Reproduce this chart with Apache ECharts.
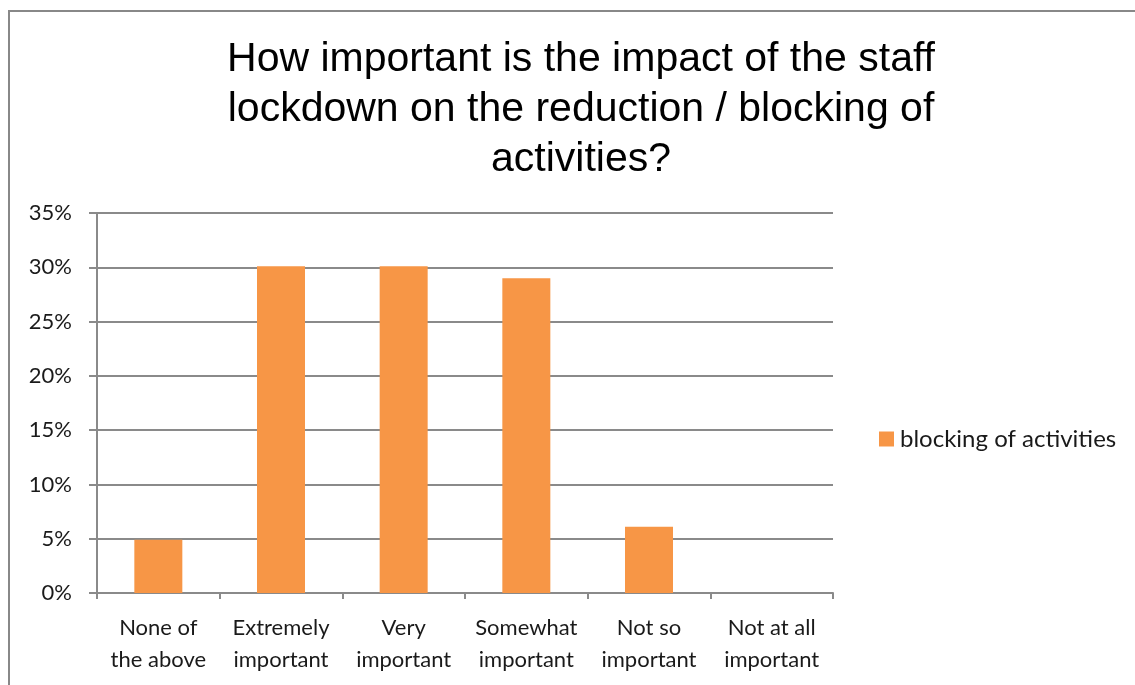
<!DOCTYPE html>
<html>
<head>
<meta charset="utf-8">
<script src="https://cdn.jsdelivr.net/npm/echarts@6/dist/echarts.min.js"></script>
<style>
html,body{margin:0;padding:0;background:#fff;}
#frame{position:absolute;left:8px;top:10px;width:1130px;height:690px;border-left:2px solid #888;border-top:2px solid #888;box-sizing:border-box;}
#chart{position:absolute;left:0;top:0;width:1135px;height:685px;}
</style>
</head>
<body>
<div id="frame"></div>
<div id="chart"></div>
<script>
const titleLines = ["How important is the impact of the staff", "lockdown on the reduction / blocking of", "activities?"];
const categories = ["None of\nthe above", "Extremely\nimportant", "Very\nimportant", "Somewhat\nimportant", "Not so\nimportant", "Not at all\nimportant"];
const seriesName = "blocking of activities";
const values = [4.9, 30.1, 30.1, 29.0, 6.1, 0];
const yTicks = [0, 5, 10, 15, 20, 25, 30, 35];

const chart = echarts.init(document.getElementById('chart'), null, {renderer: 'canvas'});
const labelFont = "Lato, 'Open Sans', sans-serif";
chart.setOption({
  animation: false,
  backgroundColor: 'transparent',
  title: {
    text: titleLines.join('\n'),
    left: 576,
    top: 30,
    textAlign: 'center',
    textStyle: {
      fontFamily: "'Liberation Sans', Arial, sans-serif",
      fontSize: 41,
      fontWeight: 'normal',
      color: '#000',
      lineHeight: 50
    }
  },
  legend: {
    data: [seriesName],
    left: 874,
    top: 422,
    orient: 'vertical',
    itemWidth: 15,
    itemHeight: 15,
    itemGap: 6,
    icon: 'rect',
    textStyle: {fontFamily: labelFont, fontSize: 24, color: '#1a1a1a', padding: [0, 0, 0, 1]}
  },
  grid: {left: 97, right: 302, top: 213, bottom: 92, containLabel: false},
  xAxis: {
    type: 'category',
    data: categories,
    axisLine: {show: true, lineStyle: {color: '#8a8a8a', width: 2}},
    axisTick: {show: true, alignWithLabel: false, length: 6, lineStyle: {color: '#8a8a8a', width: 2}},
    axisLabel: {
      interval: 0,
      fontFamily: labelFont,
      fontSize: 22,
      lineHeight: 32,
      color: '#1a1a1a',
      margin: 19
    }
  },
  yAxis: {
    type: 'value',
    min: 0,
    max: 35,
    interval: 5,
    axisLine: {show: true, lineStyle: {color: '#8a8a8a', width: 2}},
    axisTick: {show: true, length: 8, lineStyle: {color: '#8a8a8a', width: 2}},
    splitLine: {show: true, lineStyle: {color: '#8a8a8a', width: 2}},
    axisLabel: {
      formatter: function (v) { return yTicks.indexOf(v) >= 0 ? v + '%' : ''; },
      fontFamily: labelFont,
      fontSize: 22,
      color: '#1a1a1a',
      margin: 25
    }
  },
  series: [{
    name: seriesName,
    type: 'bar',
    data: values,
    barWidth: 48,
    itemStyle: {color: '#F79646'}
  }]
});
</script>
</body>
</html>
